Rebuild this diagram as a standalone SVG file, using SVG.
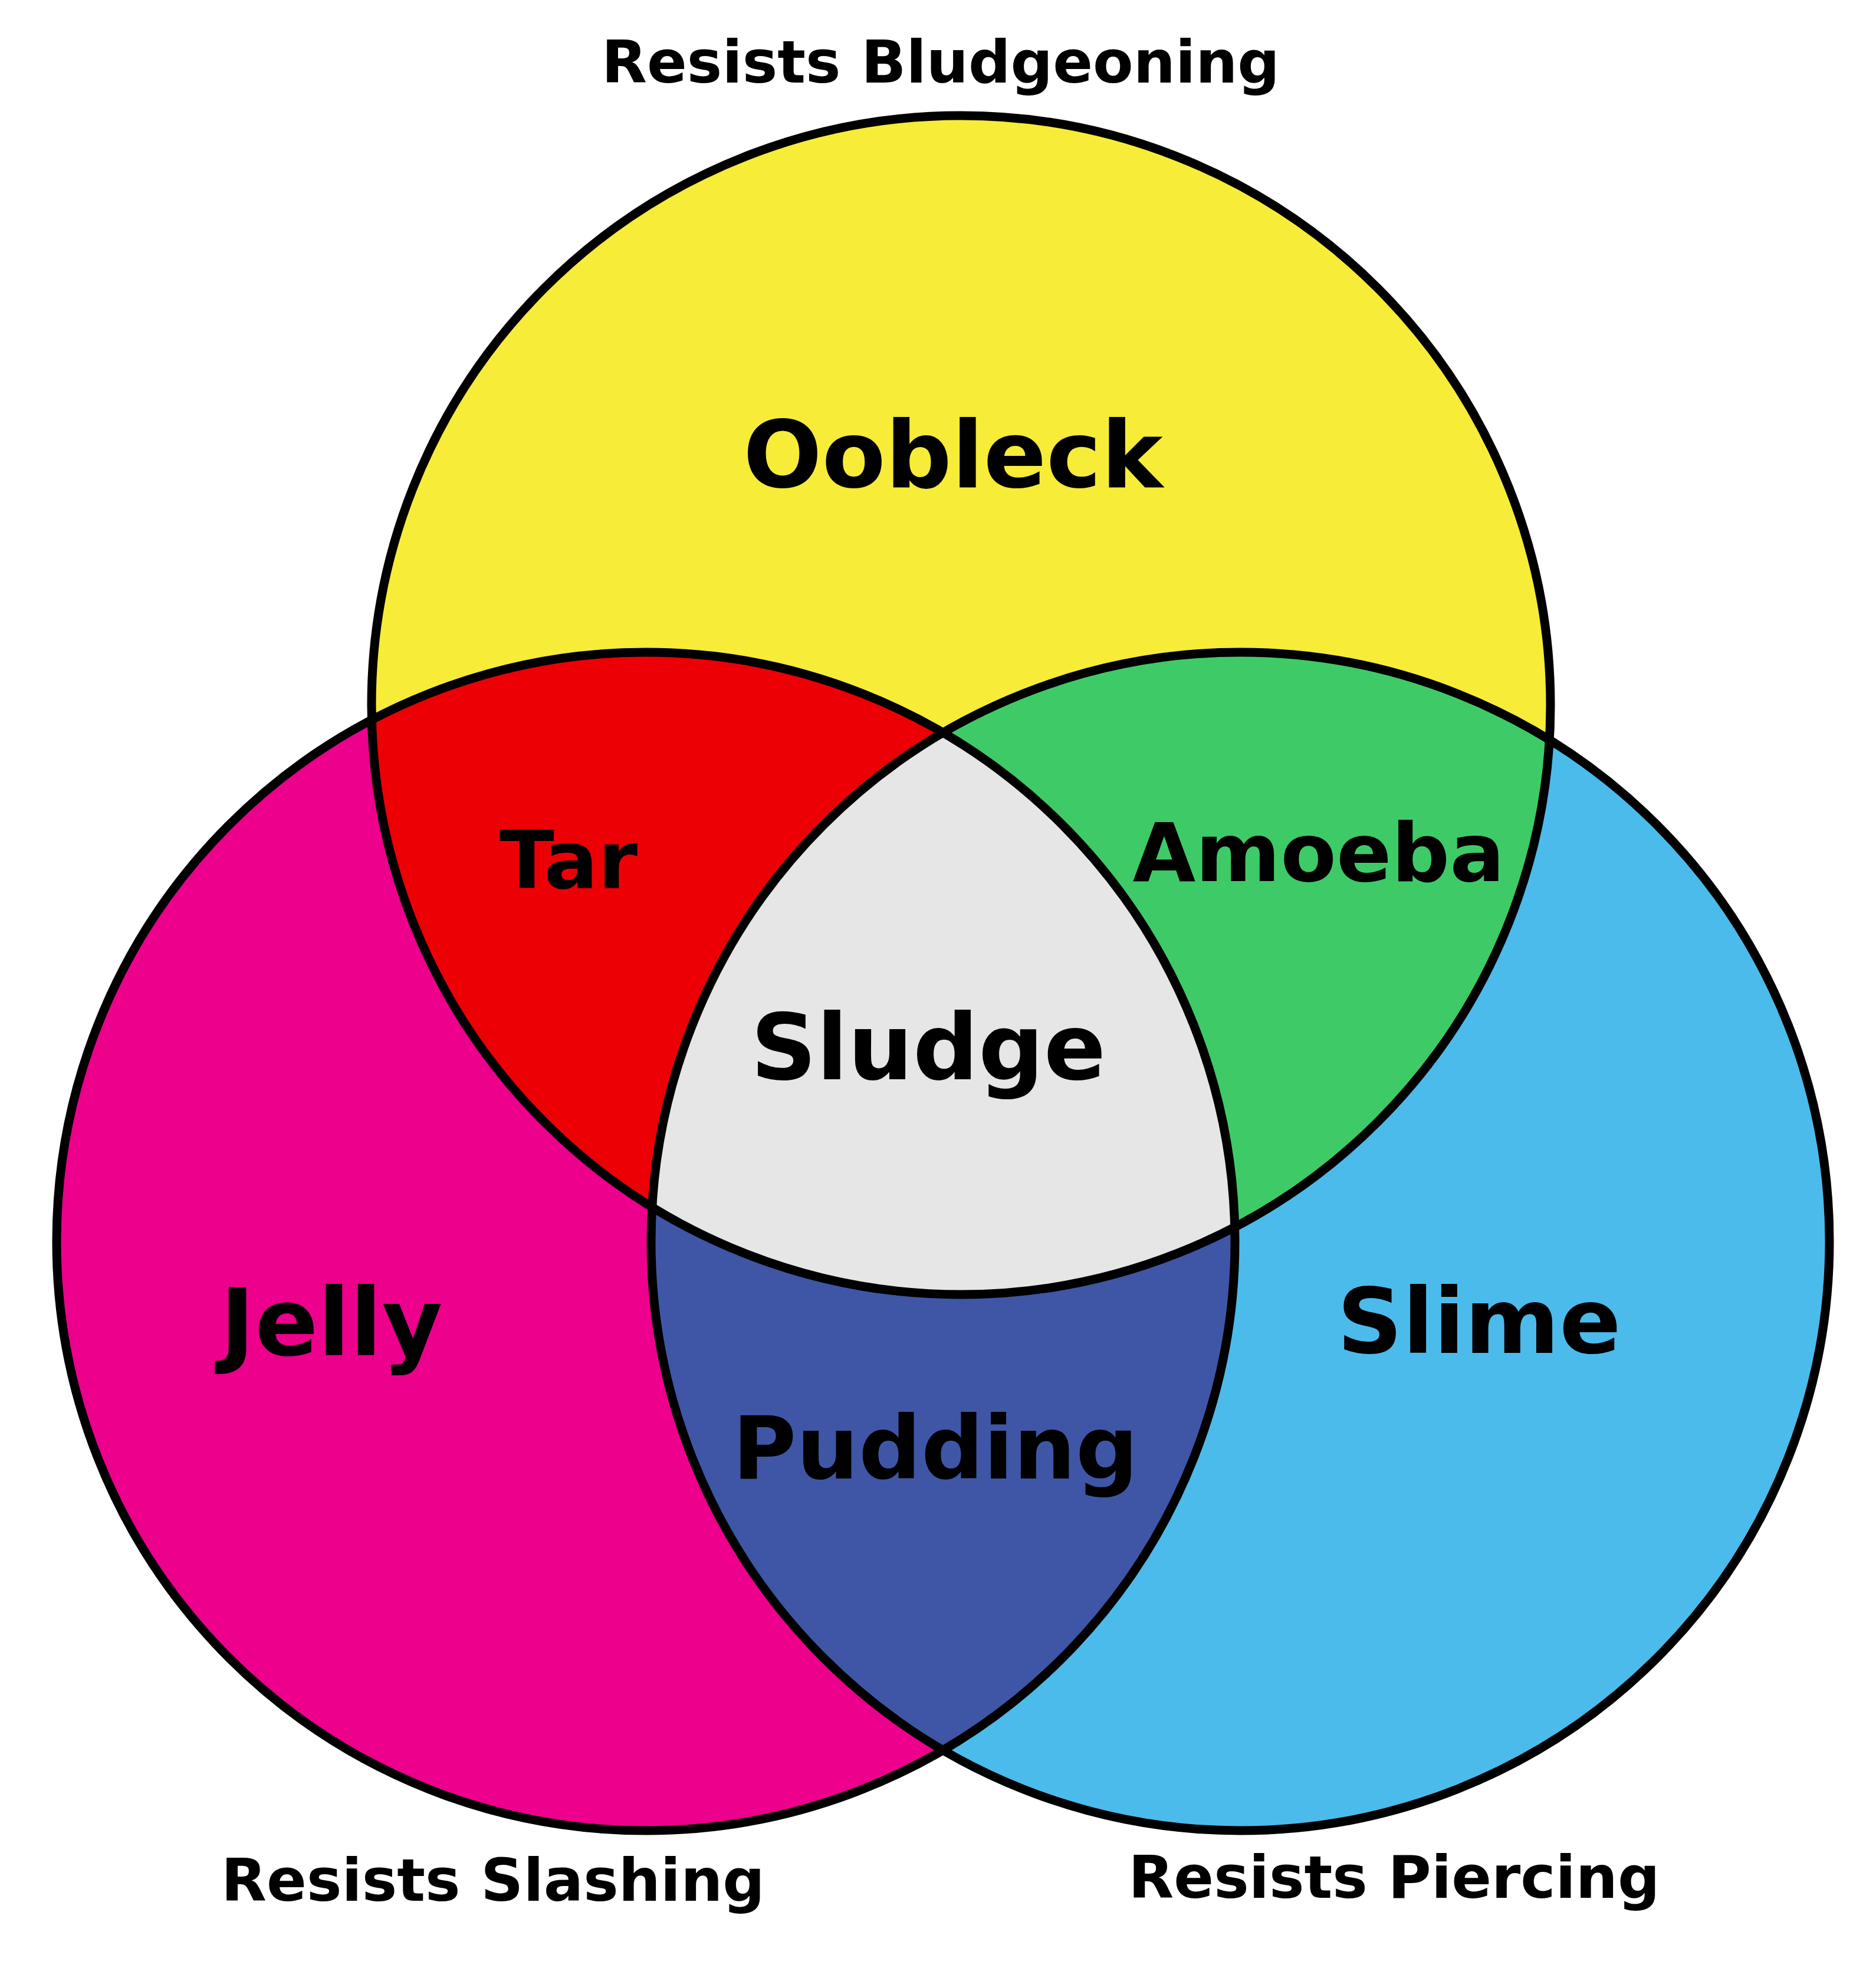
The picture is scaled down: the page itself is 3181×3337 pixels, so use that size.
<svg xmlns="http://www.w3.org/2000/svg" width="3181" height="3337" viewBox="0 0 3181 3337">
<style>
.lbl{font-family:"DejaVu Sans","Liberation Sans",sans-serif;font-weight:bold;fill:#000;text-anchor:middle}
.ring{fill:none;stroke:#000;stroke-width:15}
</style>
<defs>
<circle id="cTop" cx="1629.5" cy="1195.5" r="999.5"/>
<circle id="cLeft" cx="1095" cy="2105" r="999"/>
<circle id="cRight" cx="2103" cy="2105" r="999"/>
<clipPath id="clipTop"><use href="#cTop"/></clipPath>
<clipPath id="clipLeft"><use href="#cLeft"/></clipPath>
<clipPath id="clipRight"><use href="#cRight"/></clipPath>
</defs>
<rect width="3181" height="3337" fill="#fff"/>
<g id="oobleck">
<use href="#cTop" fill="#f7ec37"/>
</g>
<g id="jelly">
<use href="#cLeft" fill="#ec008c"/>
</g>
<g id="slime">
<use href="#cRight" fill="#4bbbeb"/>
</g>
<g id="tar">
<use href="#cLeft" fill="#ec0006" clip-path="url(#clipTop)"/>
</g>
<g id="amoeba">
<use href="#cRight" fill="#3ecb67" clip-path="url(#clipTop)"/>
</g>
<g id="pudding">
<use href="#cRight" fill="#3f56a6" clip-path="url(#clipLeft)"/>
</g>
<g id="sludge">
<g clip-path="url(#clipTop)">
<use href="#cRight" fill="#e6e6e6" clip-path="url(#clipLeft)"/>
</g>
</g>
<g id="outlines">
<use href="#cTop" class="ring"/>
<use href="#cLeft" class="ring"/>
<use href="#cRight" class="ring"/>
</g>
<g id="labels">
<text class="lbl" x="1616" y="826" font-size="157">Oobleck</text>
<text class="lbl" x="964" y="1506" font-size="136">Tar</text>
<text class="lbl" x="2236" y="1494" font-size="138">Amoeba</text>
<text class="lbl" x="1574" y="1830" font-size="155">Sludge</text>
<text class="lbl" x="562" y="2298" font-size="158">Jelly</text>
<text class="lbl" x="2508" y="2294" font-size="154">Slime</text>
<text class="lbl" x="1586" y="2507" font-size="148">Pudding</text>
</g>
<g id="set-labels">
<text class="lbl" x="1595" y="140" font-size="100">Resists Bludgeoning</text>
<text class="lbl" x="836" y="3223" font-size="100">Resists Slashing</text>
<text class="lbl" x="2364" y="3218" font-size="100">Resists Piercing</text>
</g>
</svg>
